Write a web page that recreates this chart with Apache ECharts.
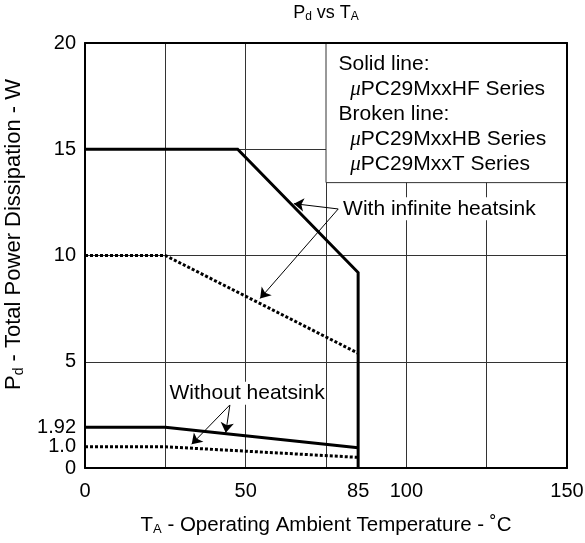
<!DOCTYPE html>
<html><head><meta charset="utf-8">
<script src="https://cdn.jsdelivr.net/npm/echarts@6/dist/echarts.min.js"></script>
<style>html,body{margin:0;padding:0;background:#fff}#c{width:585px;height:543px}</style>
</head><body><div id="c"></div>
<script>
// ---- data ----
const xTickLabels = [0, 50, 85, 100, 150];
const yTickLabels = [0, 1.0, 1.92, 5, 10, 15, 20];
// With infinite heatsink
const hfInfT = [0, 47.5, 85, 85];
const hfInfP = [15, 15, 9.2, 0];
const hbInfT = [0, 25, 85];
const hbInfP = [10, 10, 5.4];
// Without heatsink
const hfNoT = [0, 25, 85];
const hfNoP = [1.92, 1.92, 0.95];
const hbNoT = [0, 25, 85];
const hbNoP = [1.0, 1.0, 0.5];
// annotation anchors (data coordinates)
const noteBox = [[75, 13.43], [150, 20]];
const withLabelAt = [80.0, 12.2];
const withArrowFrom = [78.8, 12.19];
const withArrowTo = [[65.0, 12.44], [54.5, 7.98]];
const withoutLabelAt = [26.0, 3.52];
const withoutArrowFrom = [45.1, 2.97];
const withoutArrowTo = [[43.8, 1.66], [33.2, 1.12]];

const zip = (a, b) => a.map((v, i) => [v, b[i]]);
const FONT = '"Liberation Sans", Arial, Helvetica, sans-serif';
const solid = {color: '#000', width: 3, type: 'solid', cap: 'butt', join: 'miter'};
const dotted = {color: '#000', width: 3, type: [3, 2], cap: 'butt'};
const gridLine = {show: true, lineStyle: {color: '#333', width: 1}};

const chart = echarts.init(document.getElementById('c'));
chart.setOption({
  animation: false,
  backgroundColor: '#fff',
  textStyle: {fontFamily: FONT, color: '#000'},
  title: {
    text: '{n|P}{s|d}{n| vs T}{s|A}',
    left: 326, top: 3, textAlign: 'center', padding: 0,
    textStyle: {
      fontWeight: 'normal',
      rich: {
        n: {fontSize: 18, fontWeight: 'normal', fontFamily: FONT, color: '#000', lineHeight: 20},
        s: {fontSize: 12, fontWeight: 'normal', fontFamily: FONT, color: '#000', lineHeight: 12, verticalAlign: 'bottom'}
      }
    }
  },
  grid: {left: 85, top: 43, right: 18, bottom: 75, show: false, containLabel: false, outerBoundsMode: 'none'},
  xAxis: [{
    type: 'value', min: 0, max: 150, interval: 25,
    axisLine: {show: true, onZero: false, lineStyle: {color: '#000', width: 2}},
    axisTick: {show: false},
    splitLine: gridLine,
    axisLabel: {customValues: xTickLabels, fontSize: 20, color: '#000', margin: 13, fontFamily: FONT, hideOverlap: false},
    name: '{n|T}{s|A}{n| - Operating Ambient Temperature - ˚C}',
    nameLocation: 'middle', nameGap: 46,
    nameTextStyle: {
      rich: {
        n: {fontSize: 20.5, fontFamily: FONT, color: '#000', lineHeight: 22},
        s: {fontSize: 13, fontFamily: FONT, color: '#000', lineHeight: 14, verticalAlign: 'bottom'}
      }
    }
  }, {
    type: 'value', min: 0, max: 150, position: 'top', z: 5,
    axisLine: {show: true, onZero: false, lineStyle: {color: '#000', width: 2}},
    axisTick: {show: false}, axisLabel: {show: false}, splitLine: {show: false}
  }],
  yAxis: [{
    type: 'value', min: 0, max: 20, interval: 5,
    axisLine: {show: true, onZero: false, lineStyle: {color: '#000', width: 2}},
    axisTick: {show: false},
    splitLine: gridLine,
    axisLabel: {
      customValues: yTickLabels, fontSize: 20, color: '#000', margin: 9, fontFamily: FONT, hideOverlap: false,
      formatter: v => (v === 1 ? '1.0' : String(v))
    },
    name: '{n|P}{s|d}{n| - Total Power Dissipation - W}',
    nameLocation: 'middle', nameGap: 49,
    nameTextStyle: {
      padding: [0, 0, 0, 42],
      rich: {
        n: {fontSize: 22, fontFamily: FONT, color: '#000', lineHeight: 24},
        s: {fontSize: 14, fontFamily: FONT, color: '#000', lineHeight: 15, verticalAlign: 'bottom'}
      }
    }
  }, {
    type: 'value', min: 0, max: 20, position: 'right', z: 5,
    axisLine: {show: true, onZero: false, lineStyle: {color: '#000', width: 2}},
    axisTick: {show: false}, axisLabel: {show: false}, splitLine: {show: false}
  }],
  series: [
    {type: 'line', name: 'HF infinite', data: zip(hfInfT, hfInfP), symbol: 'none', lineStyle: solid, z: 3},
    {type: 'line', name: 'HB infinite', data: zip(hbInfT, hbInfP), symbol: 'none', lineStyle: dotted, z: 3},
    {type: 'line', name: 'HF none', data: zip(hfNoT, hfNoP), symbol: 'none', lineStyle: solid, z: 3},
    {type: 'line', name: 'HB none', data: zip(hbNoT, hbNoP), symbol: 'none', lineStyle: dotted, z: 3},
    {
      type: 'line', name: 'notes', data: [], z: 2, silent: true,
      markArea: {
        silent: true,
        itemStyle: {color: '#fff', borderColor: '#333', borderWidth: 1},
        label: {
          show: true, position: [13, 9], color: '#000',
          formatter: 'Solid line:\n  {m|μ}PC29MxxHF Series\nBroken line:\n  {m|μ}PC29MxxHB Series\n  {m|μ}PC29MxxT Series',
          fontSize: 21, lineHeight: 25, fontFamily: FONT,
          rich: {m: {fontSize: 21, lineHeight: 25, fontStyle: 'italic', fontFamily: '"Liberation Serif", serif', color: '#000'}}
        },
        data: [[{coord: noteBox[0]}, {coord: noteBox[1]}]]
      }
    },
    {
      type: 'line', name: 'arrows', data: [], z: 4, silent: true,
      markLine: {
        silent: true, symbol: ['none', 'arrow'], symbolSize: 10,
        lineStyle: {color: '#000', width: 1, type: 'solid'},
        label: {show: false},
        data: withArrowTo.map(p => [{coord: withArrowFrom}, {coord: p}])
          .concat(withoutArrowTo.map(p => [{coord: withoutArrowFrom}, {coord: p}]))
      },
      markPoint: {
        silent: true, symbol: 'rect', symbolSize: 0,
        label: {
          show: true, position: 'right', distance: 0, color: '#000', fontSize: 21, fontFamily: FONT,
          backgroundColor: '#fff', padding: [1, 1], formatter: p => p.name
        },
        data: [
          {name: 'With infinite heatsink', coord: withLabelAt},
          {name: 'Without heatsink', coord: withoutLabelAt}
        ]
      }
    }
  ]
});
</script></body></html>
